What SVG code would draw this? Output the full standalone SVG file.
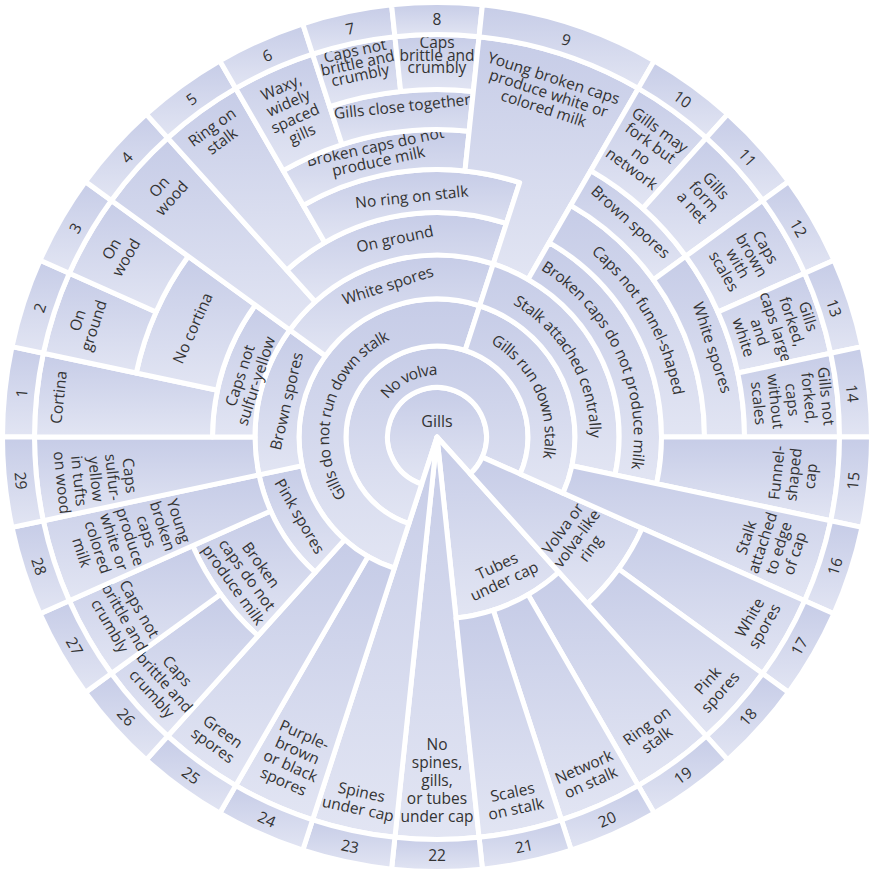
<svg xmlns="http://www.w3.org/2000/svg" xmlns:xlink="http://www.w3.org/1999/xlink" width="872" height="871" viewBox="0 0 872 871">
<defs>
<linearGradient id="g" x1="0" y1="0" x2="0" y2="1"><stop offset="0" stop-color="#c6cce7"/><stop offset="1" stop-color="#e2e5f3"/></linearGradient>
<path id="arc68" d="M369 437 A68 68 0 0 1 505 437"/>
<path id="arc114" d="M323 437 A114 114 0 0 1 551 437"/>
<path id="arc159" d="M278 437 A159 159 0 0 1 596 437"/>
<path id="arc203" d="M234 437 A203 203 0 0 1 640 437"/>
<path id="arc246" d="M191 437 A246 246 0 0 1 683 437"/>
</defs>
<style>
.c{fill:url(#g);stroke:#fff;stroke-width:5;stroke-linejoin:round}
.t{font-family:"Open Sans","Noto Sans","DejaVu Sans",sans-serif;font-size:15.5px;fill:#333;text-anchor:middle;dominant-baseline:central}
.n{font-size:15.5px}
</style>
<rect width="872" height="871" fill="#fff"/>
<g id="cells">
<g id="gills"><path class="c" d="M437 437 L421.70 484.08 A49.5 49.5 0 1 1 470.12 473.79 Z"/><text class="t" x="437" y="421" style="font-size:16px">Gills</text></g>
<g id="tubes"><path class="c" d="M437 437 L558.78 572.25 A182 182 0 0 1 456.02 618.00 Z"/><text class="t" transform="translate(500.4 573) rotate(-25)"><tspan x="0" y="-8.5">Tubes</tspan><tspan x="0" y="8.5">under cap</tspan></text></g>
<g id="leaf22"><path class="c" d="M437 437 L479.07 837.30 A402.5 402.5 0 0 1 394.93 837.30 Z"/><text class="t" transform="translate(437 780)"><tspan x="0" y="-36">No</tspan><tspan x="0" y="-18">spines,</tspan><tspan x="0" y="0">gills,</tspan><tspan x="0" y="18">or tubes</tspan><tspan x="0" y="36">under cap</tspan></text></g>
<g id="leaf23"><path class="c" d="M437 437 L394.93 837.30 A402.5 402.5 0 0 1 312.62 819.80 Z"/><text class="t" transform="translate(359.9 799.9) rotate(12)"><tspan x="0" y="-8.5">Spines</tspan><tspan x="0" y="8.5">under cap</tspan></text></g>
<g id="novolva"><path class="c" d="M421.70 484.08 L408.88 523.55 A91 91 0 1 1 520.13 474.01 L482.22 457.13 A49.5 49.5 0 1 0 421.70 484.08 Z"/><text class="t" transform="rotate(334 437 437)"><textPath href="#arc68" startOffset="50%">No volva</textPath></text></g>
<g id="volva"><path class="c" d="M482.22 457.13 L642.09 528.31 A224.5 224.5 0 0 1 587.22 603.84 L470.12 473.79 A49.5 49.5 0 0 0 482.22 457.13 Z"/><text class="t" transform="translate(576.2 538.1) rotate(-54)"><tspan x="0" y="-17">Volva or</tspan><tspan x="0" y="0">volva-like</tspan><tspan x="0" y="17">ring</tspan></text></g>
<g id="gdnrds"><path class="c" d="M408.88 523.55 L394.36 568.25 A138 138 0 0 1 479.64 305.75 L465.12 350.45 A91 91 0 0 0 408.88 523.55 Z"/><text class="t" transform="rotate(285.5 437 437)"><textPath href="#arc114" startOffset="50%">Gills do not run down stalk</textPath></text></g>
<g id="grds"><path class="c" d="M465.12 350.45 L479.64 305.75 A138 138 0 0 1 563.07 493.13 L520.13 474.01 A91 91 0 0 0 465.12 350.45 Z"/><text class="t" transform="rotate(65.5 437 437)"><textPath href="#arc114" startOffset="50%">Gills run down stalk</textPath></text></g>
<g id="leaf24"><path class="c" d="M394.36 568.25 L312.62 819.80 A402.5 402.5 0 0 1 235.75 785.58 L368 556.51 A138 138 0 0 0 394.36 568.25 Z"/><text class="t" transform="translate(294.2 757.7) rotate(24)"><tspan x="0" y="-25.5">Purple-</tspan><tspan x="0" y="-8.5">brown</tspan><tspan x="0" y="8.5">or black</tspan><tspan x="0" y="25.5">spores</tspan></text></g>
<g id="leaf25"><path class="c" d="M368 556.51 L235.75 785.58 A402.5 402.5 0 0 1 167.68 736.12 L344.66 539.55 A138 138 0 0 0 368 556.51 Z"/><text class="t" transform="translate(218.3 738) rotate(36)"><tspan x="0" y="-8.5">Green</tspan><tspan x="0" y="8.5">spores</tspan></text></g>
<g id="pink"><path class="c" d="M344.66 539.55 L315.22 572.25 A182 182 0 0 1 258.98 474.84 L302.02 465.69 A138 138 0 0 0 344.66 539.55 Z"/><text class="t" transform="translate(300.2 516) rotate(60)">Pink spores</text></g>
<g id="brokenL"><path class="c" d="M315.22 572.25 L258.01 635.79 A267.5 267.5 0 0 1 192.63 545.80 L270.74 511.03 A182 182 0 0 0 315.22 572.25 Z"/><text class="t" transform="translate(247.7 574.5) rotate(54)"><tspan x="0" y="-17">Broken</tspan><tspan x="0" y="0">caps do not</tspan><tspan x="0" y="17">produce milk</tspan></text></g>
<g id="leaf26"><path class="c" d="M258.01 635.79 L167.68 736.12 A402.5 402.5 0 0 1 111.37 673.58 L220.59 594.23 A267.5 267.5 0 0 0 258.01 635.79 Z"/><text class="t" transform="translate(165 681.9) rotate(48)"><tspan x="0" y="-17">Caps</tspan><tspan x="0" y="0">brittle and</tspan><tspan x="0" y="17">crumbly</tspan></text></g>
<g id="leaf27"><path class="c" d="M220.59 594.23 L111.37 673.58 A402.5 402.5 0 0 1 69.30 600.71 L192.63 545.80 A267.5 267.5 0 0 0 220.59 594.23 Z"/><text class="t" transform="translate(125.2 617) rotate(60)"><tspan x="0" y="-17">Caps not</tspan><tspan x="0" y="0">brittle and</tspan><tspan x="0" y="17">crumbly</tspan></text></g>
<g id="leaf28"><path class="c" d="M270.74 511.03 L69.30 600.71 A402.5 402.5 0 0 1 43.30 520.69 L258.98 474.84 A182 182 0 0 0 270.74 511.03 Z"/><text class="t" transform="translate(130.8 536.5) rotate(72)"><tspan x="0" y="-51">Young</tspan><tspan x="0" y="-34">broken</tspan><tspan x="0" y="-17">caps</tspan><tspan x="0" y="0">produce</tspan><tspan x="0" y="17">white or</tspan><tspan x="0" y="34">colored</tspan><tspan x="0" y="51">milk</tspan></text></g>
<g id="brownL"><path class="c" d="M302.02 465.69 L258.98 474.84 A182 182 0 0 1 289.76 330.02 L325.36 355.89 A138 138 0 0 0 302.02 465.69 Z"/><text class="t" transform="translate(286 401) rotate(-77)">Brown spores</text></g>
<g id="leaf29"><path class="c" d="M258.98 474.84 L43.30 520.69 A402.5 402.5 0 0 1 34.5 437 L255 437 A182 182 0 0 0 258.98 474.84 Z"/><text class="t" transform="translate(96.5 479) rotate(84)"><tspan x="0" y="-34">Caps</tspan><tspan x="0" y="-17">sulfur-</tspan><tspan x="0" y="0">yellow</tspan><tspan x="0" y="17">in tufts</tspan><tspan x="0" y="34">on wood</tspan></text></g>
<g id="capsnotsulfur"><path class="c" d="M255 437 L212.5 437 A224.5 224.5 0 0 1 255.38 305.04 L289.76 330.02 A182 182 0 0 0 255 437 Z"/><text class="t" transform="translate(247.5 378) rotate(-72)"><tspan x="0" y="-8.5">Caps not</tspan><tspan x="0" y="8.5">sulfur-yellow</tspan></text></g>
<g id="leaf1"><path class="c" d="M212.5 437 L34.5 437 A402.5 402.5 0 0 1 43.30 353.32 L217.41 390.32 A224.5 224.5 0 0 0 212.5 437 Z"/><text class="t" transform="translate(58.1 397.2) rotate(-84)">Cortina</text></g>
<g id="nocortina"><path class="c" d="M217.41 390.32 L136.22 373.07 A307.5 307.5 0 0 1 188.23 256.26 L255.38 305.04 A224.5 224.5 0 0 0 217.41 390.32 Z"/><text class="t" transform="translate(192.2 328) rotate(-66)">No cortina</text></g>
<g id="leaf2"><path class="c" d="M136.22 373.07 L43.30 353.32 A402.5 402.5 0 0 1 69.30 273.29 L156.09 311.93 A307.5 307.5 0 0 0 136.22 373.07 Z"/><text class="t" transform="translate(85.1 322.7) rotate(-72)"><tspan x="0" y="-8.5">On</tspan><tspan x="0" y="8.5">ground</tspan></text></g>
<g id="leaf3"><path class="c" d="M156.09 311.93 L69.30 273.29 A402.5 402.5 0 0 1 111.37 200.42 L188.23 256.26 A307.5 307.5 0 0 0 156.09 311.93 Z"/><text class="t" transform="translate(118.3 253) rotate(-60)"><tspan x="0" y="-8.5">On</tspan><tspan x="0" y="8.5">wood</tspan></text></g>
<g id="whiteL"><path class="c" d="M325.36 355.89 L289.76 330.02 A182 182 0 0 1 493.24 263.91 L479.64 305.75 A138 138 0 0 0 325.36 355.89 Z"/><text class="t" transform="translate(387.6 284.8) rotate(-18)">White spores</text></g>
<g id="leaf4"><path class="c" d="M289.76 330.02 L111.37 200.42 A402.5 402.5 0 0 1 167.68 137.88 L315.22 301.75 A182 182 0 0 0 289.76 330.02 Z"/><text class="t" transform="translate(165 192.1) rotate(-48)"><tspan x="0" y="-8.5">On</tspan><tspan x="0" y="8.5">wood</tspan></text></g>
<g id="onground"><path class="c" d="M315.22 301.75 L286.78 270.16 A224.5 224.5 0 0 1 506.37 223.49 L493.24 263.91 A182 182 0 0 0 315.22 301.75 Z"/><text class="t" transform="translate(394.8 238.4) rotate(-12)">On ground</text></g>
<g id="leaf5"><path class="c" d="M286.78 270.16 L167.68 137.88 A402.5 402.5 0 0 1 235.75 88.43 L324.75 242.58 A224.5 224.5 0 0 0 286.78 270.16 Z"/><text class="t" transform="translate(216.6 133.6) rotate(-36)"><tspan x="0" y="-8.5">Ring on</tspan><tspan x="0" y="8.5">stalk</tspan></text></g>
<g id="noring"><path class="c" d="M324.75 242.58 L303.25 205.34 A267.5 267.5 0 0 1 519.66 182.59 L506.37 223.49 A224.5 224.5 0 0 0 324.75 242.58 Z"/><text class="t" transform="translate(411.7 196.3) rotate(-6)">No ring on stalk</text></g>
<g id="brokenTop"><path class="c" d="M303.25 205.34 L283.25 170.70 A307.5 307.5 0 0 1 469.14 131.18 L464.96 170.97 A267.5 267.5 0 0 0 303.25 205.34 Z"/><text class="t" transform="translate(376.7 153.3) rotate(-12)"><tspan x="0" y="-7.5">Broken caps do not</tspan><tspan x="0" y="7.5">produce milk</tspan></text></g>
<g id="leaf6"><path class="c" d="M283.25 170.70 L235.75 88.43 A402.5 402.5 0 0 1 312.62 54.20 L341.98 144.55 A307.5 307.5 0 0 0 283.25 170.70 Z"/><text class="t" transform="translate(291.4 110) rotate(-24)"><tspan x="0" y="-25.5">Waxy,</tspan><tspan x="0" y="-8.5">widely</tspan><tspan x="0" y="8.5">spaced</tspan><tspan x="0" y="25.5">gills</tspan></text></g>
<g id="gillsclose"><path class="c" d="M341.98 144.55 L329.62 106.51 A347.5 347.5 0 0 1 473.32 91.40 L469.14 131.18 A307.5 307.5 0 0 0 341.98 144.55 Z"/><text class="t" transform="translate(402.2 105.8) rotate(-6)">Gills close together</text></g>
<g id="leaf7"><path class="c" d="M329.62 106.51 L312.62 54.20 A402.5 402.5 0 0 1 394.93 36.71 L400.68 91.40 A347.5 347.5 0 0 0 329.62 106.51 Z"/><text class="t" transform="translate(357.4 62.4) rotate(-12)"><tspan x="0" y="-12.5">Caps not</tspan><tspan x="0" y="0">brittle and</tspan><tspan x="0" y="12.5">crumbly</tspan></text></g>
<g id="leaf8"><path class="c" d="M400.68 91.40 L394.93 36.71 A402.5 402.5 0 0 1 479.07 36.71 L473.32 91.40 A347.5 347.5 0 0 0 400.68 91.40 Z"/><text class="t" transform="translate(437 54.5)"><tspan x="0" y="-12.5">Caps</tspan><tspan x="0" y="0">brittle and</tspan><tspan x="0" y="12.5">crumbly</tspan></text></g>
<g id="leaf9"><path class="c" d="M464.96 170.97 L479.07 36.71 A402.5 402.5 0 0 1 638.25 88.43 L528 279.38 A182 182 0 0 0 493.24 263.91 L519.66 182.59 A267.5 267.5 0 0 0 464.96 170.97 Z"/><text class="t" transform="translate(548.9 92.7) rotate(18)"><tspan x="0" y="-16">Young broken caps</tspan><tspan x="0" y="0">produce white or</tspan><tspan x="0" y="16">colored milk</tspan></text></g>
<g id="stalkcentral"><path class="c" d="M479.64 305.75 L493.24 263.91 A182 182 0 0 1 615.02 474.84 L571.98 465.69 A138 138 0 0 0 479.64 305.75 Z"/><text class="t" transform="rotate(60 437 437)"><textPath href="#arc159" startOffset="50%">Stalk attached centrally</textPath></text></g>
<g id="brokenR"><path class="c" d="M528 279.38 L549.25 242.58 A224.5 224.5 0 0 1 656.59 483.68 L615.02 474.84 A182 182 0 0 0 528 279.38 Z"/><text class="t" transform="rotate(65.5 437 437)"><textPath href="#arc203" startOffset="50%">Broken caps do not produce milk</textPath></text></g>
<g id="capsnotfunnel"><path class="c" d="M549.25 242.58 L570.75 205.34 A267.5 267.5 0 0 1 704.5 437 L661.5 437 A224.5 224.5 0 0 0 549.25 242.58 Z"/><text class="t" transform="rotate(60 437 437)"><textPath href="#arc246" startOffset="50%">Caps not funnel-shaped</textPath></text></g>
<g id="brownR"><path class="c" d="M570.75 205.34 L590.75 170.70 A307.5 307.5 0 0 1 685.77 256.26 L653.41 279.77 A267.5 267.5 0 0 0 570.75 205.34 Z"/><text class="t" transform="translate(631 221.5) rotate(42)">Brown spores</text></g>
<g id="leaf10"><path class="c" d="M590.75 170.70 L638.25 88.43 A402.5 402.5 0 0 1 706.33 137.88 L642.76 208.48 A307.5 307.5 0 0 0 590.75 170.70 Z"/><text class="t" transform="translate(646.2 149) rotate(36)"><tspan x="0" y="-24">Gills may</tspan><tspan x="0" y="-8">fork but</tspan><tspan x="0" y="8">no</tspan><tspan x="0" y="24">network</tspan></text></g>
<g id="leaf11"><path class="c" d="M642.76 208.48 L706.33 137.88 A402.5 402.5 0 0 1 762.63 200.42 L685.77 256.26 A307.5 307.5 0 0 0 642.76 208.48 Z"/><text class="t" transform="translate(704.5 196.1) rotate(48)"><tspan x="0" y="-16">Gills</tspan><tspan x="0" y="0">form</tspan><tspan x="0" y="16">a net</tspan></text></g>
<g id="whiteR"><path class="c" d="M653.41 279.77 L685.77 256.26 A307.5 307.5 0 0 1 744.5 437 L704.5 437 A267.5 267.5 0 0 0 653.41 279.77 Z"/><text class="t" transform="translate(712.8 347.4) rotate(72)">White spores</text></g>
<g id="leaf12"><path class="c" d="M685.77 256.26 L762.63 200.42 A402.5 402.5 0 0 1 804.70 273.29 L717.92 311.93 A307.5 307.5 0 0 0 685.77 256.26 Z"/><text class="t" transform="translate(745.3 259) rotate(60)"><tspan x="0" y="-24">Caps</tspan><tspan x="0" y="-8">brown</tspan><tspan x="0" y="8">with</tspan><tspan x="0" y="24">scales</tspan></text></g>
<g id="leaf13"><path class="c" d="M717.92 311.93 L804.70 273.29 A402.5 402.5 0 0 1 830.71 353.32 L737.78 373.07 A307.5 307.5 0 0 0 717.92 311.93 Z"/><text class="t" transform="translate(776.5 326.7) rotate(72)"><tspan x="0" y="-34">Gills</tspan><tspan x="0" y="-17">forked,</tspan><tspan x="0" y="0">caps large</tspan><tspan x="0" y="17">and</tspan><tspan x="0" y="34">white</tspan></text></g>
<g id="leaf14"><path class="c" d="M737.78 373.07 L830.71 353.32 A402.5 402.5 0 0 1 839.5 437 L744.5 437 A307.5 307.5 0 0 0 737.78 373.07 Z"/><text class="t" transform="translate(793 399.6) rotate(84)"><tspan x="0" y="-34">Gills not</tspan><tspan x="0" y="-17">forked,</tspan><tspan x="0" y="0">caps</tspan><tspan x="0" y="17">without</tspan><tspan x="0" y="34">scales</tspan></text></g>
<g id="leaf15"><path class="c" d="M661.5 437 L839.5 437 A402.5 402.5 0 0 1 830.71 520.69 L656.59 483.68 A224.5 224.5 0 0 0 661.5 437 Z"/><text class="t" transform="translate(793 474.4) rotate(-84)"><tspan x="0" y="-17">Funnel-</tspan><tspan x="0" y="0">shaped</tspan><tspan x="0" y="17">cap</tspan></text></g>
<g id="leaf16"><path class="c" d="M571.98 465.69 L830.71 520.69 A402.5 402.5 0 0 1 804.70 600.71 L563.07 493.13 A138 138 0 0 0 571.98 465.69 Z"/><text class="t" transform="translate(769.9 545.2) rotate(-72)"><tspan x="0" y="-25.5">Stalk</tspan><tspan x="0" y="-8.5">attached</tspan><tspan x="0" y="8.5">to edge</tspan><tspan x="0" y="25.5">of cap</tspan></text></g>
<g id="leaf17"><path class="c" d="M642.09 528.31 L804.70 600.71 A402.5 402.5 0 0 1 762.63 673.58 L618.62 568.96 A224.5 224.5 0 0 0 642.09 528.31 Z"/><text class="t" transform="translate(756.6 621.5) rotate(-60)"><tspan x="0" y="-8.5">White</tspan><tspan x="0" y="8.5">spores</tspan></text></g>
<g id="leaf18"><path class="c" d="M618.62 568.96 L762.63 673.58 A402.5 402.5 0 0 1 706.33 736.12 L587.22 603.84 A224.5 224.5 0 0 0 618.62 568.96 Z"/><text class="t" transform="translate(713.5 685.9) rotate(-48)"><tspan x="0" y="-8.5">Pink</tspan><tspan x="0" y="8.5">spores</tspan></text></g>
<g id="leaf19"><path class="c" d="M558.78 572.25 L706.33 736.12 A402.5 402.5 0 0 1 638.25 785.58 L528 594.62 A182 182 0 0 0 558.78 572.25 Z"/><text class="t" transform="translate(651.5 732.3) rotate(-36)"><tspan x="0" y="-8.5">Ring on</tspan><tspan x="0" y="8.5">stalk</tspan></text></g>
<g id="leaf20"><path class="c" d="M528 594.62 L638.25 785.58 A402.5 402.5 0 0 1 561.38 819.80 L493.24 610.09 A182 182 0 0 0 528 594.62 Z"/><text class="t" transform="translate(587.1 774.1) rotate(-24)"><tspan x="0" y="-8.5">Network</tspan><tspan x="0" y="8.5">on stalk</tspan></text></g>
<g id="leaf21"><path class="c" d="M493.24 610.09 L561.38 819.80 A402.5 402.5 0 0 1 479.07 837.30 L456.02 618.00 A182 182 0 0 0 493.24 610.09 Z"/><text class="t" transform="translate(514.1 799.9) rotate(-12)"><tspan x="0" y="-8.5">Scales</tspan><tspan x="0" y="8.5">on stalk</tspan></text></g>
</g>
<g id="numbers">
<g id="num1"><path class="c" d="M34.5 437 L2.5 437 A434.5 434.5 0 0 1 11.99 346.66 L43.30 353.32 A402.5 402.5 0 0 0 34.5 437 Z"/><text class="t n" transform="translate(21.3 393.3) rotate(-84)">1</text></g>
<g id="num2"><path class="c" d="M43.30 353.32 L11.99 346.66 A434.5 434.5 0 0 1 40.07 260.27 L69.30 273.29 A402.5 402.5 0 0 0 43.30 353.32 Z"/><text class="t n" transform="translate(39.5 307.8) rotate(-72)">2</text></g>
<g id="num3"><path class="c" d="M69.30 273.29 L40.07 260.27 A434.5 434.5 0 0 1 85.48 181.61 L111.37 200.42 A402.5 402.5 0 0 0 69.30 273.29 Z"/><text class="t n" transform="translate(75 228) rotate(-60)">3</text></g>
<g id="num4"><path class="c" d="M111.37 200.42 L85.48 181.61 A434.5 434.5 0 0 1 146.26 114.10 L167.68 137.88 A402.5 402.5 0 0 0 111.37 200.42 Z"/><text class="t n" transform="translate(126.4 157.3) rotate(-48)">4</text></g>
<g id="num5"><path class="c" d="M167.68 137.88 L146.26 114.10 A434.5 434.5 0 0 1 219.75 60.71 L235.75 88.43 A402.5 402.5 0 0 0 167.68 137.88 Z"/><text class="t n" transform="translate(191.3 98.8) rotate(-36)">5</text></g>
<g id="num6"><path class="c" d="M235.75 88.43 L219.75 60.71 A434.5 434.5 0 0 1 302.73 23.77 L312.62 54.20 A402.5 402.5 0 0 0 235.75 88.43 Z"/><text class="t n" transform="translate(267 55.1) rotate(-24)">6</text></g>
<g id="num7"><path class="c" d="M312.62 54.20 L302.73 23.77 A434.5 434.5 0 0 1 391.58 4.88 L394.93 36.71 A402.5 402.5 0 0 0 312.62 54.20 Z"/><text class="t n" transform="translate(350.1 28.1) rotate(-12)">7</text></g>
<g id="num8"><path class="c" d="M394.93 36.71 L391.58 4.88 A434.5 434.5 0 0 1 482.42 4.88 L479.07 36.71 A402.5 402.5 0 0 0 394.93 36.71 Z"/><text class="t n" transform="translate(437 19)">8</text></g>
<g id="num9"><path class="c" d="M479.07 36.71 L482.42 4.88 A434.5 434.5 0 0 1 654.25 60.71 L638.25 88.43 A402.5 402.5 0 0 0 479.07 36.71 Z"/><text class="t n" transform="translate(566.2 39.5) rotate(18)">9</text></g>
<g id="num10"><path class="c" d="M638.25 88.43 L654.25 60.71 A434.5 434.5 0 0 1 727.74 114.10 L706.33 137.88 A402.5 402.5 0 0 0 638.25 88.43 Z"/><text class="t n" transform="translate(682.7 98.8) rotate(36)">10</text></g>
<g id="num11"><path class="c" d="M706.33 137.88 L727.74 114.10 A434.5 434.5 0 0 1 788.52 181.61 L762.63 200.42 A402.5 402.5 0 0 0 706.33 137.88 Z"/><text class="t n" transform="translate(747.6 157.3) rotate(48)">11</text></g>
<g id="num12"><path class="c" d="M762.63 200.42 L788.52 181.61 A434.5 434.5 0 0 1 833.94 260.27 L804.70 273.29 A402.5 402.5 0 0 0 762.63 200.42 Z"/><text class="t n" transform="translate(799 228) rotate(60)">12</text></g>
<g id="num13"><path class="c" d="M804.70 273.29 L833.94 260.27 A434.5 434.5 0 0 1 862.01 346.66 L830.71 353.32 A402.5 402.5 0 0 0 804.70 273.29 Z"/><text class="t n" transform="translate(834.5 307.8) rotate(72)">13</text></g>
<g id="num14"><path class="c" d="M830.71 353.32 L862.01 346.66 A434.5 434.5 0 0 1 871.5 437 L839.5 437 A402.5 402.5 0 0 0 830.71 353.32 Z"/><text class="t n" transform="translate(852.7 393.3) rotate(84)">14</text></g>
<g id="num15"><path class="c" d="M839.5 437 L871.5 437 A434.5 434.5 0 0 1 862.01 527.34 L830.71 520.69 A402.5 402.5 0 0 0 839.5 437 Z"/><text class="t n" transform="translate(852.7 480.7) rotate(-84)">15</text></g>
<g id="num16"><path class="c" d="M830.71 520.69 L862.01 527.34 A434.5 434.5 0 0 1 833.94 613.73 L804.70 600.71 A402.5 402.5 0 0 0 830.71 520.69 Z"/><text class="t n" transform="translate(834.5 566.2) rotate(-72)">16</text></g>
<g id="num17"><path class="c" d="M804.70 600.71 L833.94 613.73 A434.5 434.5 0 0 1 788.52 692.39 L762.63 673.58 A402.5 402.5 0 0 0 804.70 600.71 Z"/><text class="t n" transform="translate(799 646) rotate(-60)">17</text></g>
<g id="num18"><path class="c" d="M762.63 673.58 L788.52 692.39 A434.5 434.5 0 0 1 727.74 759.90 L706.33 736.12 A402.5 402.5 0 0 0 762.63 673.58 Z"/><text class="t n" transform="translate(747.6 716.7) rotate(-48)">18</text></g>
<g id="num19"><path class="c" d="M706.33 736.12 L727.74 759.90 A434.5 434.5 0 0 1 654.25 813.29 L638.25 785.58 A402.5 402.5 0 0 0 706.33 736.12 Z"/><text class="t n" transform="translate(682.7 775.2) rotate(-36)">19</text></g>
<g id="num20"><path class="c" d="M638.25 785.58 L654.25 813.29 A434.5 434.5 0 0 1 571.27 850.23 L561.38 819.80 A402.5 402.5 0 0 0 638.25 785.58 Z"/><text class="t n" transform="translate(607 818.9) rotate(-24)">20</text></g>
<g id="num21"><path class="c" d="M561.38 819.80 L571.27 850.23 A434.5 434.5 0 0 1 482.42 869.12 L479.07 837.30 A402.5 402.5 0 0 0 561.38 819.80 Z"/><text class="t n" transform="translate(523.9 845.9) rotate(-12)">21</text></g>
<g id="num22"><path class="c" d="M479.07 837.30 L482.42 869.12 A434.5 434.5 0 0 1 391.58 869.12 L394.93 837.30 A402.5 402.5 0 0 0 479.07 837.30 Z"/><text class="t n" transform="translate(437 855)">22</text></g>
<g id="num23"><path class="c" d="M394.93 837.30 L391.58 869.12 A434.5 434.5 0 0 1 302.73 850.23 L312.62 819.80 A402.5 402.5 0 0 0 394.93 837.30 Z"/><text class="t n" transform="translate(350.1 845.9) rotate(12)">23</text></g>
<g id="num24"><path class="c" d="M312.62 819.80 L302.73 850.23 A434.5 434.5 0 0 1 219.75 813.29 L235.75 785.58 A402.5 402.5 0 0 0 312.62 819.80 Z"/><text class="t n" transform="translate(267 818.9) rotate(24)">24</text></g>
<g id="num25"><path class="c" d="M235.75 785.58 L219.75 813.29 A434.5 434.5 0 0 1 146.26 759.90 L167.68 736.12 A402.5 402.5 0 0 0 235.75 785.58 Z"/><text class="t n" transform="translate(191.3 775.2) rotate(36)">25</text></g>
<g id="num26"><path class="c" d="M167.68 736.12 L146.26 759.90 A434.5 434.5 0 0 1 85.48 692.39 L111.37 673.58 A402.5 402.5 0 0 0 167.68 736.12 Z"/><text class="t n" transform="translate(126.4 716.7) rotate(48)">26</text></g>
<g id="num27"><path class="c" d="M111.37 673.58 L85.48 692.39 A434.5 434.5 0 0 1 40.07 613.73 L69.30 600.71 A402.5 402.5 0 0 0 111.37 673.58 Z"/><text class="t n" transform="translate(75 646) rotate(60)">27</text></g>
<g id="num28"><path class="c" d="M69.30 600.71 L40.07 613.73 A434.5 434.5 0 0 1 11.99 527.34 L43.30 520.69 A402.5 402.5 0 0 0 69.30 600.71 Z"/><text class="t n" transform="translate(39.5 566.2) rotate(72)">28</text></g>
<g id="num29"><path class="c" d="M43.30 520.69 L11.99 527.34 A434.5 434.5 0 0 1 2.5 437 L34.5 437 A402.5 402.5 0 0 0 43.30 520.69 Z"/><text class="t n" transform="translate(21.3 480.7) rotate(84)">29</text></g>
</g>
</svg>
